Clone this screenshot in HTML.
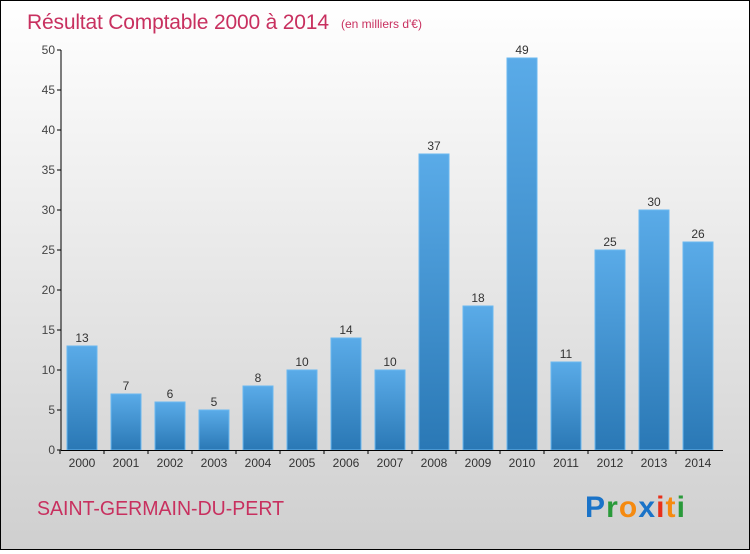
<!DOCTYPE html>
<html><head><meta charset="utf-8"><style>
body{margin:0;width:750px;height:550px;overflow:hidden;font-family:"Liberation Sans",sans-serif}
#wrap{position:absolute;left:0;top:0;width:748px;height:548px;border:1px solid #000;background:linear-gradient(#ffffff,#cfcfcf)}
</style></head><body>
<div id="wrap">
<svg id="chart" width="748" height="548">
<defs><linearGradient id="bg" x1="0" y1="0" x2="0" y2="1"><stop offset="0" stop-color="#5aabe8"/><stop offset="1" stop-color="#2a78b5"/></linearGradient></defs>
<text x="26" y="28" font-size="21" fill="#c8305f" textLength="302">Résultat Comptable 2000 à 2014</text>
<text x="340" y="27" font-size="12" fill="#c8305f">(en milliers d'€)</text>
<text x="36" y="514" font-size="20" fill="#c8305f" textLength="247" lengthAdjust="spacingAndGlyphs">SAINT-GERMAIN-DU-PERT</text>
<text x="584" y="516" font-size="30" font-weight="bold" textLength="100"><tspan fill="#1a73c8">P</tspan><tspan fill="#2a9a3a">r</tspan><tspan fill="#f58a10">o</tspan><tspan fill="#1a73c8">x</tspan><tspan fill="#e8301a">i</tspan><tspan fill="#f58a10">t</tspan><tspan fill="#2a9a3a">i</tspan></text>
<g id="g"></g>
</svg></div>
<script>
const years=["2000","2001","2002","2003","2004","2005","2006","2007","2008","2009","2010","2011","2012","2013","2014"];
const values=[13,7,6,5,8,10,14,10,37,18,49,11,25,30,26];
const yTicks=[0,5,10,15,20,25,30,35,40,45,50];
const NS="http://www.w3.org/2000/svg";
const g=document.getElementById('g');
const y=v=>449-v*8, x0=60, step=44;
const cx=i=>x0+21+i*step;
function mk(t,a){const e=document.createElementNS(NS,t);for(const k in a)e.setAttribute(k,a[k]);g.appendChild(e);return e;}
yTicks.forEach(v=>{
 const l=mk('line',{x1:56,x2:60,y1:y(v),y2:y(v),stroke:'#000'});
 
 
 const t=mk('text',{x:54,y:y(v)+4,'text-anchor':'end','font-size':12,fill:'#444'});t.textContent=v;
 
 
});
years.forEach((yr,i)=>{
 const v=values[i];
 const r=mk('rect',{x:cx(i)-15,y:y(v),width:30,height:v*8,fill:'url(#bg)',stroke:'#6ab8f0','stroke-width':1});
 
 
 const t=mk('text',{x:cx(i),y:y(v)-4,'text-anchor':'middle','font-size':12,fill:'#333'});t.textContent=v;
 
 
 const xl=mk('text',{x:cx(i),y:466,'text-anchor':'middle','font-size':12,fill:'#333'});xl.textContent=yr;
 
 
 const tk=mk('line',{x1:cx(i)-22,x2:cx(i)-22,y1:449,y2:453,stroke:'#000'});
 
 
});
const ya=mk('line',{x1:60,x2:60,y1:y(50),y2:449,stroke:'#000'});


const xa=mk('line',{x1:60,x2:722,y1:449.5,y2:449.5,stroke:'#000'});


</script>
</body></html>
